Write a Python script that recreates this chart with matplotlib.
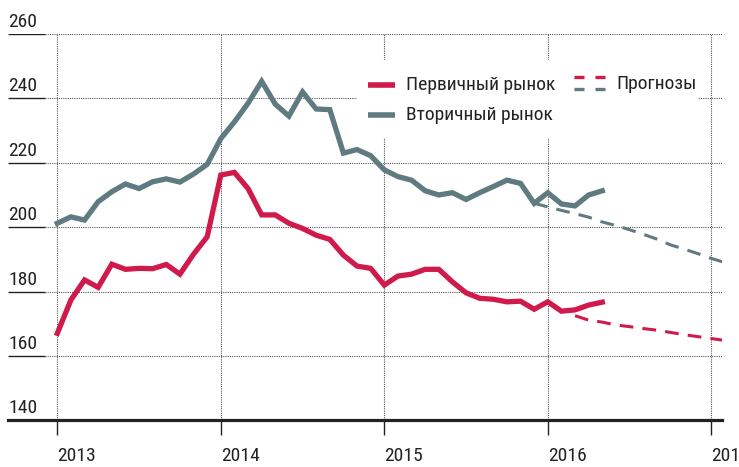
import matplotlib.pyplot as plt
from matplotlib import font_manager
from matplotlib.patches import Rectangle
from matplotlib.lines import Line2D

# monthly values, Jan 2013 .. May 2016
primary = [167.0, 177.4, 183.6, 181.3, 188.5, 186.9, 187.2, 187.1, 188.4, 185.4, 191.6, 197.0,
           216.2, 217.0, 212.0, 203.8, 203.8, 201.2, 199.6, 197.5, 196.2, 191.3, 187.9, 187.2,
           182.0, 184.8, 185.4, 186.9, 186.9, 183.0, 179.6, 177.9, 177.6, 176.8, 177.0, 174.5,
           176.8, 173.9, 174.3, 175.8, 176.7]
secondary = [201.2, 203.2, 202.2, 207.9, 211.0, 213.4, 212.0, 214.1, 215.0, 214.0, 216.5, 219.5,
             227.5, 232.7, 238.5, 245.3, 238.2, 234.5, 242.0, 236.7, 236.5, 223.0, 224.1, 222.2,
             217.8, 215.7, 214.6, 211.3, 210.0, 210.7, 208.6, 210.7, 212.6, 214.6, 213.6, 207.4,
             210.7, 207.2, 206.6, 210.0, 211.3]
# forecasts: secondary from Dec 2015, primary from Mar 2016 (to Feb 2017)
secondary_fc = [207.4, 206.3, 205.2, 204.2, 203.1, 201.6, 200.5, 199.2, 197.8, 196.3, 194.5,
                193.2, 191.8, 190.3, 189.0]
primary_fc = [172.5, 171.1, 170.5, 169.6, 169.1, 168.5, 168.0, 167.3, 166.6, 166.0, 165.4, 164.8]

years = [2013, 2014, 2015, 2016, 2017]
yticks = [140, 160, 180, 200, 220, 240, 260]

RED = '#d01a4b'
GREY = '#5f7b81'
DARK = '#222222'

# look for a narrow font file, fall back to plain DejaVu
narrow = None
for want in ['RobotoCondensed-Regular', 'LiberationSansNarrow-Regular', 'DejaVuSansCondensed.ttf']:
    for f in font_manager.fontManager.ttflist:
        if want in f.fname:
            narrow = f.fname
            break
    if narrow:
        break
if narrow:
    fp = font_manager.FontProperties(fname=narrow, size=14)
else:
    fp = font_manager.FontProperties(family='DejaVu Sans', stretch='condensed', size=13)

W, H = 739, 467
fig = plt.figure(figsize=(W / 100, H / 100), dpi=100)

def px(x, y):
    # pixel (from top-left) -> figure fraction
    return x / W, 1 - y / H

left, right, top, bottom = 8, 721.7, 34, 420.3
ax = fig.add_axes([left / W, 1 - bottom / H, (right - left) / W, (bottom - top) / H])

x_act = [2013 + i / 12 for i in range(len(primary))]
x_sfc = [2013 + (35 + i) / 12 for i in range(len(secondary_fc))]
x_pfc = [2013 + (38 + i) / 12 for i in range(len(primary_fc))]

ax.set_xlim(2012.6985, 2017.0636)
ax.set_ylim(140, 260)

for s in ['top', 'right', 'left']:
    ax.spines[s].set_visible(False)
ax.spines['bottom'].set_linewidth(2.3)
ax.spines['bottom'].set_color(DARK)

# grid: short solid piece at the left, dotted after
cut = (45 - left) / (right - left)
for v in yticks[1:]:
    ax.plot([0, cut], [v, v], transform=ax.get_yaxis_transform(), color=DARK, lw=1.0,
            solid_capstyle='butt', zorder=1)
    ax.plot([cut, 1], [v, v], transform=ax.get_yaxis_transform(), color='#555555', lw=0.8,
            ls=(0, (1, 1)), zorder=1)
for yr in years:
    ax.axvline(yr, color='#555555', lw=0.8, ls=(0, (1, 1)), zorder=1)

ax.set_yticks([])
ax.set_xticks(years)
ax.set_xticklabels([])
ax.tick_params(axis='x', direction='out', length=11, width=1.0, color=DARK)

for v in yticks:
    ax.annotate(str(v), xy=(0, v), xycoords=ax.get_yaxis_transform(), xytext=(0, 5),
                textcoords='offset points', ha='left', va='baseline', fontproperties=fp,
                color=DARK)
for yr in years:
    ax.annotate(str(yr), xy=(yr, 0), xycoords=ax.get_xaxis_transform(), xytext=(0, -29),
                textcoords='offset points', ha='left', va='baseline', fontproperties=fp,
                color=DARK, annotation_clip=False)

ax.plot(x_sfc, secondary_fc, color=GREY, lw=2.2, dashes=(4.5, 3), zorder=3)
ax.plot(x_pfc, primary_fc, color=RED, lw=2.2, dashes=(4.5, 3), zorder=3)
ax.plot(x_act, secondary, color=GREY, lw=3.8, solid_joinstyle='miter', zorder=4)
ax.plot(x_act, primary, color=RED, lw=3.8, solid_joinstyle='miter', zorder=4)

# legend drawn by hand
x0, y0 = px(357, 138)
x1, y1 = px(698, 60)
fig.patches.append(Rectangle((x0, y0), x1 - x0, y1 - y0, transform=fig.transFigure,
                             facecolor='white', edgecolor='none', zorder=2))

def seg(xa, xb, y, color, lw):
    a = px(xa, y)
    b = px(xb, y)
    fig.add_artist(Line2D([a[0], b[0]], [a[1], b[1]], color=color, lw=lw,
                          solid_capstyle='butt', zorder=5))

seg(368, 395, 85, RED, 4.0)
seg(368, 395, 115, GREY, 4.0)
for xa in (574, 595):
    seg(xa, xa + 10, 76.5, RED, 2.4)
    seg(xa, xa + 10, 88.5, GREY, 2.4)

for txt, (tx, ty) in [('Первичный рынок', (406.5, 85)), ('Вторичный рынок', (406.5, 115)),
                      ('Прогнозы', (616.5, 84))]:
    fx, fy = px(tx, ty)
    fig.text(fx, fy, txt, ha='left', va='center', fontproperties=fp, color=DARK, zorder=6)

fig.savefig('out.png', dpi=100)
